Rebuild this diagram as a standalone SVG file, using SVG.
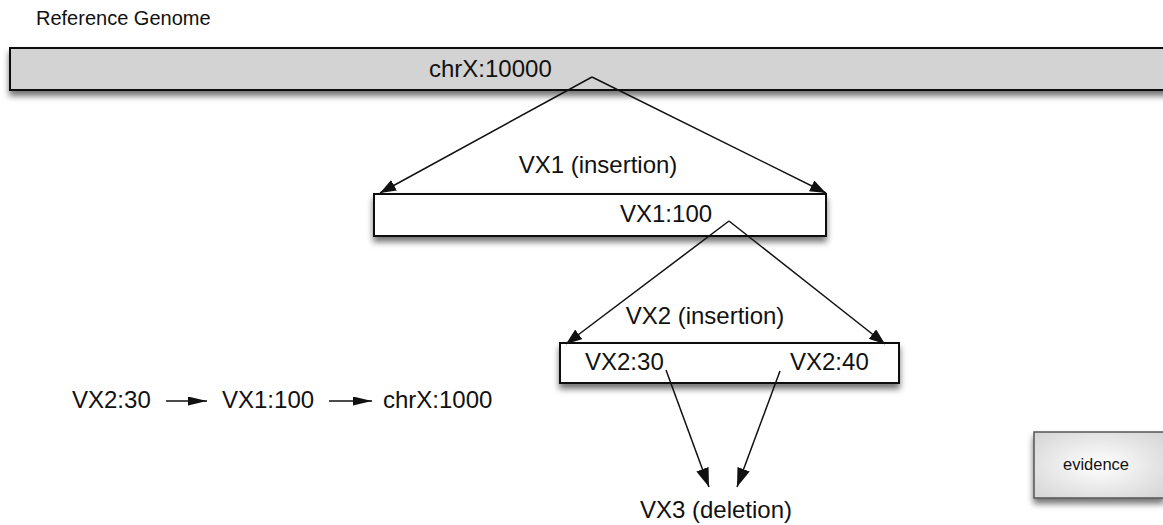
<svg xmlns="http://www.w3.org/2000/svg" width="1163" height="525" viewBox="0 0 1163 525">
<style>
text{font-family:"Liberation Sans",Arial,sans-serif;fill:#111}
.lbl{font-size:24px}
.box{stroke:#111;stroke-width:2}
.conn{stroke:#111;stroke-width:1.5;fill:none}
</style>
<defs>
<filter id="sh" x="-10%" y="-30%" width="120%" height="180%">
<feDropShadow dx="0" dy="5" stdDeviation="3" flood-color="#000" flood-opacity="0.55"/>
</filter>
<radialGradient id="evg" cx="0.5" cy="0.5" r="0.7">
<stop offset="0" stop-color="#ffffff"/>
<stop offset="1" stop-color="#d4d4d4"/>
</radialGradient>
<marker id="ah" viewBox="0 0 16 12" refX="16" refY="6" markerWidth="16" markerHeight="12" markerUnits="userSpaceOnUse" orient="auto">
<path d="M0,0 L16,6 L0,12 z" fill="#111"/>
</marker>
<marker id="ahb" viewBox="0 0 19 13" refX="19" refY="6.5" markerWidth="19" markerHeight="13" markerUnits="userSpaceOnUse" orient="auto">
<path d="M0,0 L19,6.5 L0,13 z" fill="#111"/>
</marker>
<marker id="ahs" viewBox="0 0 19 9" refX="19" refY="4.5" markerWidth="19" markerHeight="9" markerUnits="userSpaceOnUse" orient="auto">
<path d="M0,0 L19,4.5 L0,9 z" fill="#111"/>
</marker>
</defs>
<text x="36" y="25" style="font-size:20px">Reference Genome</text>
<g id="ref">
<rect class="box" x="10" y="48" width="1160" height="42" fill="#d3d3d3" filter="url(#sh)"/>
<text class="lbl" x="429" y="77">chrX:10000</text>
</g>
<g id="vx1">
<rect class="box" x="374" y="194" width="452" height="42" fill="#fff" filter="url(#sh)"/>
<text class="lbl" x="620" y="222">VX1:100</text>
</g>
<g id="vx2">
<rect class="box" x="560" y="343" width="339" height="40" fill="#fff" filter="url(#sh)"/>
<text class="lbl" x="585" y="370">VX2:30</text>
<text class="lbl" x="790" y="370">VX2:40</text>
</g>
<g id="evidence">
<rect x="1034" y="432" width="130" height="66" fill="url(#evg)" stroke="#555" stroke-width="1.5" filter="url(#sh)"/>
<text x="1063" y="470" style="font-size:16.5px">evidence</text>
</g>
<g id="labels">
<text class="lbl" x="598" y="173" text-anchor="middle">VX1 (insertion)</text>
<text class="lbl" x="705" y="324" text-anchor="middle">VX2 (insertion)</text>
<text class="lbl" x="716" y="518" text-anchor="middle">VX3 (deletion)</text>
</g>
<g id="path-label">
<text class="lbl" x="72" y="408">VX2:30</text>
<text class="lbl" x="222" y="408">VX1:100</text>
<text class="lbl" x="383" y="408">chrX:1000</text>
</g>
<g id="connectors">
<line class="conn" x1="592" y1="77" x2="380" y2="193" marker-end="url(#ah)"/>
<line class="conn" x1="592" y1="77" x2="826" y2="193" marker-end="url(#ah)"/>
<line class="conn" x1="729" y1="221" x2="566" y2="344" marker-end="url(#ah)"/>
<line class="conn" x1="729" y1="221" x2="885" y2="344" marker-end="url(#ah)"/>
<line class="conn" x1="666" y1="370" x2="709" y2="487" marker-end="url(#ahb)"/>
<line class="conn" x1="780" y1="371" x2="737" y2="487" marker-end="url(#ahb)"/>
<line class="conn" x1="166" y1="401" x2="207" y2="401" marker-end="url(#ahs)"/>
<line class="conn" x1="329" y1="401" x2="372" y2="401" marker-end="url(#ahs)"/>
</g>
</svg>
